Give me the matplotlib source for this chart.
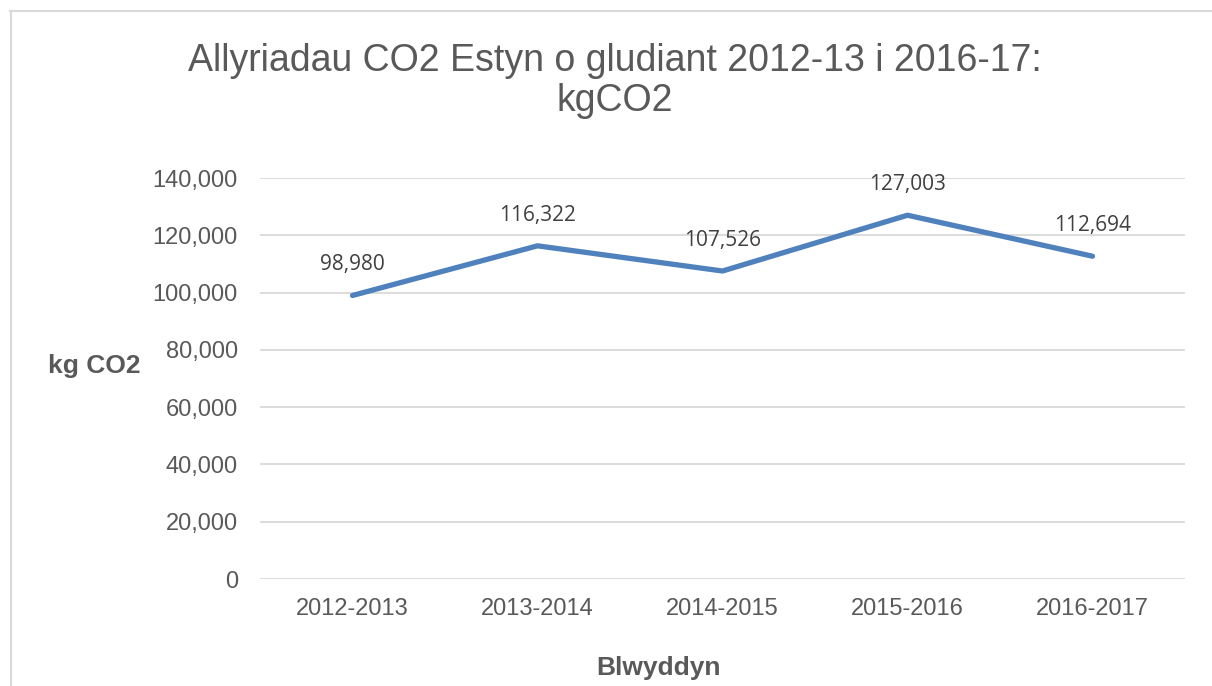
import matplotlib
matplotlib.use("Agg")
import matplotlib.pyplot as plt
from matplotlib.lines import Line2D

categories = ["2012-2013", "2013-2014", "2014-2015", "2015-2016", "2016-2017"]
values = [98980, 116322, 107526, 127003, 112694]
yticks = [0, 20000, 40000, 60000, 80000, 100000, 120000, 140000]
title = "Allyriadau CO2 Estyn o gludiant 2012-13 i 2016-17:\nkgCO2"
ylabel = "kg CO2"
xlabel = "Blwyddyn"

W, H = 1212, 686
fig = plt.figure(figsize=(W / 100, H / 100), dpi=100)
fig.patch.set_facecolor("white")

# outer chart border (top and left edges visible)
fig.lines.append(Line2D([10 / W, 1.0], [1 - 10.5 / H, 1 - 10.5 / H], transform=fig.transFigure,
                        color="#d9d9d9", linewidth=1.5))
fig.lines.append(Line2D([10.5 / W, 10.5 / W], [0.0, 1 - 10.5 / H], transform=fig.transFigure,
                        color="#d9d9d9", linewidth=1.5))

ax = fig.add_axes([260 / W, 1 - 579 / H, (1185 - 260) / W, (579 - 178) / H])
x = list(range(len(categories)))
ax.plot(x, values, color="#4F81BD", linewidth=3.8, solid_capstyle="round", zorder=3)
ax.set_xlim(-0.5, len(categories) - 0.5)
ax.set_ylim(0, 140000)
ax.set_yticks(yticks)
ax.set_yticklabels([f"{v:,}" for v in yticks])
ax.set_xticks(x)
ax.set_xticklabels(categories)
ax.grid(axis="y", color="#d9d9d9", linewidth=1.3)
ax.set_axisbelow(True)
for s in ax.spines.values():
    s.set_visible(False)
ax.tick_params(axis="both", length=0, labelsize=17, labelcolor="#595959")
ax.tick_params(axis="y", pad=16)
ax.tick_params(axis="x", pad=14)
for lbl in ax.get_xticklabels() + ax.get_yticklabels():
    lbl.set_fontfamily("Liberation Sans")

for xi, v in zip(x, values):
    ax.annotate(f"{v:,}", (xi, v), xytext=(0, 22), textcoords="offset points",
                ha="center", va="center", fontsize=15, color="#404040",
                fontfamily="Open Sans")

fig.text(615 / W, 1 - 81 / H, title, ha="center", va="center", fontsize=27,
         color="#595959", fontfamily="Liberation Sans", linespacing=1.12)
fig.text(94 / W, 1 - 366 / H, ylabel, ha="center", va="center", fontsize=19,
         fontweight="bold", color="#595959", fontfamily="Liberation Sans")
fig.text(658 / W, 1 - 668 / H, xlabel, ha="center", va="center", fontsize=19,
         fontweight="bold", color="#595959", fontfamily="Liberation Sans")

fig.savefig("out.png", dpi=100)
